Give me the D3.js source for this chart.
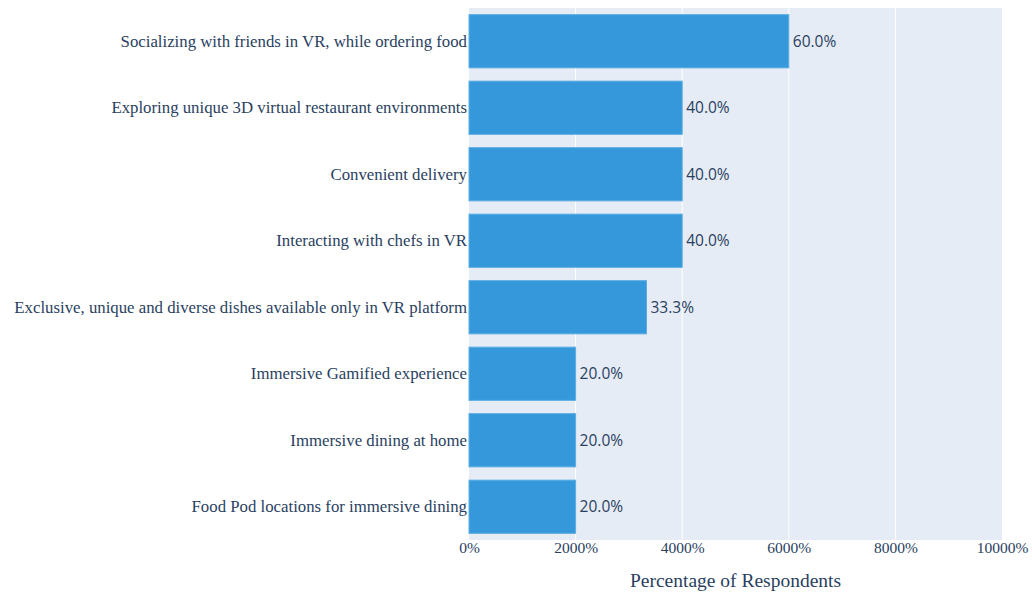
<!DOCTYPE html>
<html>
<head>
<meta charset="utf-8">
<script src="https://cdn.jsdelivr.net/npm/d3@7"></script>
<style>
  body { margin: 0; background: #fff; }
</style>
</head>
<body>
<div id="chart"></div>
<script>
var categories = [
  "Socializing with friends in VR, while ordering food",
  "Exploring unique 3D virtual restaurant environments",
  "Convenient delivery",
  "Interacting with chefs in VR",
  "Exclusive, unique and diverse dishes available only in VR platform",
  "Immersive Gamified experience",
  "Immersive dining at home",
  "Food Pod locations for immersive dining"
];
var values = [60.0, 40.0, 40.0, 40.0, 33.3, 20.0, 20.0, 20.0];
var tickValues = [0, 20, 40, 60, 80, 100];
var tickLabels = ["0%", "2000%", "4000%", "6000%", "8000%", "10000%"];

var width = 1032, height = 592;
var margin = {left: 469, right: 30, top: 8, bottom: 52};
var serif = "'Liberation Serif', 'Times New Roman', serif";

var svg = d3.select("#chart").append("svg")
    .attr("width", width)
    .attr("height", height);

var x = d3.scaleLinear()
    .domain([0, 100])
    .range([margin.left, width - margin.right]);

var y = d3.scaleBand()
    .domain(categories)
    .range([margin.top, height - margin.bottom])
    .paddingInner(0.2)
    .paddingOuter(0.1);

// plot background
svg.append("rect")
    .attr("x", x(0))
    .attr("y", margin.top)
    .attr("width", x(100) - x(0))
    .attr("height", height - margin.bottom - margin.top)
    .attr("fill", "#e5ecf6");

// grid
svg.append("g")
    .selectAll("line")
    .data(tickValues.slice(1, -1))
    .join("line")
    .attr("x1", function(d){ return x(d); })
    .attr("x2", function(d){ return x(d); })
    .attr("y1", margin.top)
    .attr("y2", height - margin.bottom)
    .attr("stroke", "#fff")
    .attr("stroke-width", 1);

// bars
svg.append("g")
    .selectAll("rect")
    .data(values)
    .join("rect")
    .attr("x", x(0))
    .attr("y", function(d, i){ return y(categories[i]); })
    .attr("width", function(d){ return x(d) - x(0); })
    .attr("height", y.bandwidth())
    .attr("fill", "#3498db")
    .attr("stroke", "#5dade2")
    .attr("stroke-width", 1);

// value labels
svg.append("g")
    .selectAll("text")
    .data(values)
    .join("text")
    .attr("x", function(d){ return x(d) + 4; })
    .attr("y", function(d, i){ return y(categories[i]) + y.bandwidth() / 2; })
    .attr("dy", "0.35em")
    .attr("fill", "#2a3f5f")
    .style("font-family", "'Open Sans', sans-serif")
    .style("font-size", "15.5px")
    .text(function(d){ return d.toFixed(1) + "%"; });

// y axis
var yAxis = svg.append("g")
    .attr("transform", "translate(" + (x(0) - 1) + ",0)")
    .call(d3.axisLeft(y).tickSize(0).tickPadding(1));
yAxis.select(".domain").remove();
yAxis.selectAll("text")
    .attr("fill", "#2a3f5f")
    .style("font-family", serif)
    .style("font-size", "16.8px");

// x axis
var xAxis = svg.append("g")
    .attr("transform", "translate(0," + (height - margin.bottom) + ")")
    .call(d3.axisBottom(x).tickValues(tickValues)
        .tickFormat(function(d, i){ return tickLabels[i]; })
        .tickSize(0).tickPadding(2));
xAxis.select(".domain").remove();
xAxis.selectAll("text")
    .attr("fill", "#2a3f5f")
    .style("font-family", serif)
    .style("font-size", "15.5px");

// x title
svg.append("text")
    .attr("x", (x(0) + x(100)) / 2)
    .attr("y", 587)
    .attr("text-anchor", "middle")
    .attr("fill", "#2a3f5f")
    .style("font-family", serif)
    .style("font-size", "19.5px")
    .text("Percentage of Respondents");
</script>
</body>
</html>
